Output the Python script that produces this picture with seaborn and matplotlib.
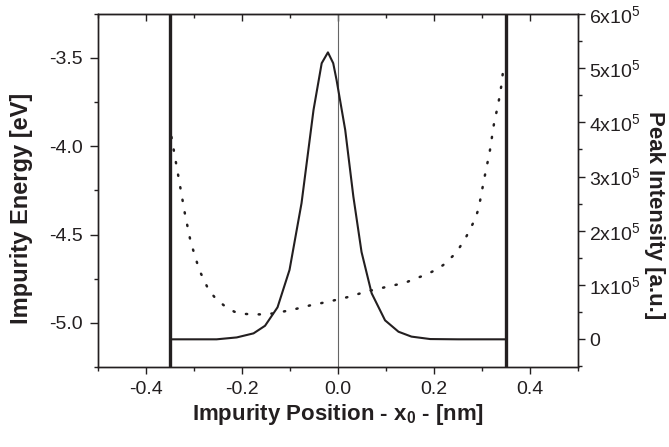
import matplotlib
matplotlib.use('Agg')
import matplotlib.pyplot as plt
from matplotlib.ticker import MultipleLocator, FixedLocator, FixedFormatter
import seaborn as sns

sns.set_style('ticks')
plt.rcParams['font.family'] = ['Liberation Sans', 'DejaVu Sans']
plt.rcParams['mathtext.default'] = 'regular'

# peak intensity (solid, right axis)
x_peak = [-0.35, -0.30, -0.253, -0.211, -0.176, -0.152, -0.126, -0.101, -0.076,
          -0.051, -0.034, -0.021, -0.010, -0.003, 0.015, 0.032, 0.049, 0.070,
          0.098, 0.126, 0.153, 0.192, 0.25, 0.35]
peak_int = [0, 0, 0, 3500, 11000, 25000, 59000, 128000, 251000,
            423000, 509000, 529000, 509000, 478000, 386000, 263000, 161000, 85000,
            35000, 14000, 5000, 500, 0, 0]

# impurity energy (dotted, left axis)
x_energy = [-0.347, -0.333, -0.319, -0.307, -0.289, -0.270, -0.255, -0.236, -0.216,
            -0.197, -0.176, -0.157, -0.136, -0.098, -0.058, -0.018, 0.022, 0.060,
            0.100, 0.140, 0.161, 0.181, 0.200, 0.219, 0.239, 0.254, 0.267, 0.277,
            0.286, 0.293, 0.304, 0.316, 0.325, 0.334, 0.341, 0.345]
energy = [-3.947, -4.164, -4.381, -4.541, -4.701, -4.811, -4.862, -4.905, -4.937,
          -4.949, -4.952, -4.952, -4.947, -4.928, -4.901, -4.879, -4.853, -4.822,
          -4.797, -4.773, -4.749, -4.730, -4.705, -4.673, -4.622, -4.570, -4.513, -4.460,
          -4.409, -4.352, -4.192, -4.032, -3.871, -3.758, -3.645, -3.541]

wall_pos = [-0.35, 0.35]

right_ticks = [0, 1e5, 2e5, 3e5, 4e5, 5e5, 6e5]
right_labels = ['0', '1x10$^5$', '2x10$^5$', '3x10$^5$', '4x10$^5$', '5x10$^5$', '6x10$^5$']

ink = '#231f20'

fig = plt.figure(figsize=(6.69, 4.47), dpi=100)
ax = fig.add_axes([0.1465, 0.179, 0.7175, 0.790])
ax2 = ax.twinx()

sns.lineplot(x=x_energy, y=energy, ax=ax, color=ink, lw=1.8,
             linestyle=(0, (0.5, 4.6)), dash_capstyle='round')
sns.lineplot(x=x_peak, y=peak_int, ax=ax2, color=ink, lw=1.5)

for xw in wall_pos:
    ax.axvline(xw, color=ink, lw=2.4, zorder=5)
ax.axvline(0, color='#666666', lw=0.8, zorder=1)

ax.set_xlim(-0.5, 0.5)
ax.set_ylim(-5.25, -3.25)
ax2.set_ylim(-0.51e5, 6e5)

ax.xaxis.set_major_locator(MultipleLocator(0.2))
ax.xaxis.set_minor_locator(MultipleLocator(0.1))
ax.yaxis.set_major_locator(MultipleLocator(0.5))
ax.yaxis.set_minor_locator(MultipleLocator(0.25))
ax.yaxis.set_major_formatter(matplotlib.ticker.FormatStrFormatter('%.1f'))
ax.xaxis.set_major_formatter(matplotlib.ticker.FormatStrFormatter('%.1f'))
ax2.yaxis.set_major_locator(FixedLocator(right_ticks))
ax2.yaxis.set_major_formatter(FixedFormatter(right_labels))
ax2.yaxis.set_minor_locator(MultipleLocator(0.5e5))

for a in (ax, ax2):
    for sp in a.spines.values():
        sp.set_color(ink)
        sp.set_linewidth(1.0)
        sp.set_visible(True)

ax.tick_params(axis='x', which='major', direction='out', length=5, width=1.0,
               color=ink, labelsize=14, labelcolor=ink, pad=5)
ax.tick_params(axis='y', which='major', direction='out', length=6, width=1.0,
               color=ink, labelsize=14, labelcolor=ink, pad=5)
ax.tick_params(axis='both', which='minor', direction='out', length=3, width=1.0, color=ink)
ax2.tick_params(axis='y', which='major', direction='out', length=5, width=1.0,
                color=ink, labelsize=14, labelcolor=ink, pad=3)
ax2.tick_params(axis='y', which='minor', direction='out', length=3, width=1.0, color=ink)

top = ax.secondary_xaxis('top')
top.xaxis.set_major_locator(MultipleLocator(0.2))
top.xaxis.set_minor_locator(MultipleLocator(0.1))
top.tick_params(which='major', direction='in', length=5, width=1.0, color=ink, labeltop=False)
top.tick_params(which='minor', direction='in', length=3, width=1.0, color=ink)
top.spines['top'].set_color(ink)

ax.set_xlabel('Impurity Position - x$_0$ - [nm]', fontsize=16, fontweight='bold', color=ink)
ax.set_ylabel('Impurity Energy [eV]', fontsize=17, fontweight='bold', color=ink)
ax2.set_ylabel('Peak Intensity [a.u.]', fontsize=16, fontweight='bold', color=ink,
               rotation=270, va='bottom')
ax.xaxis.set_label_coords(0.5, -0.1)
ax.yaxis.set_label_coords(-0.135, 0.448)
ax2.yaxis.set_label_coords(1.138, 0.43)

fig.savefig('out.png', dpi=100)
